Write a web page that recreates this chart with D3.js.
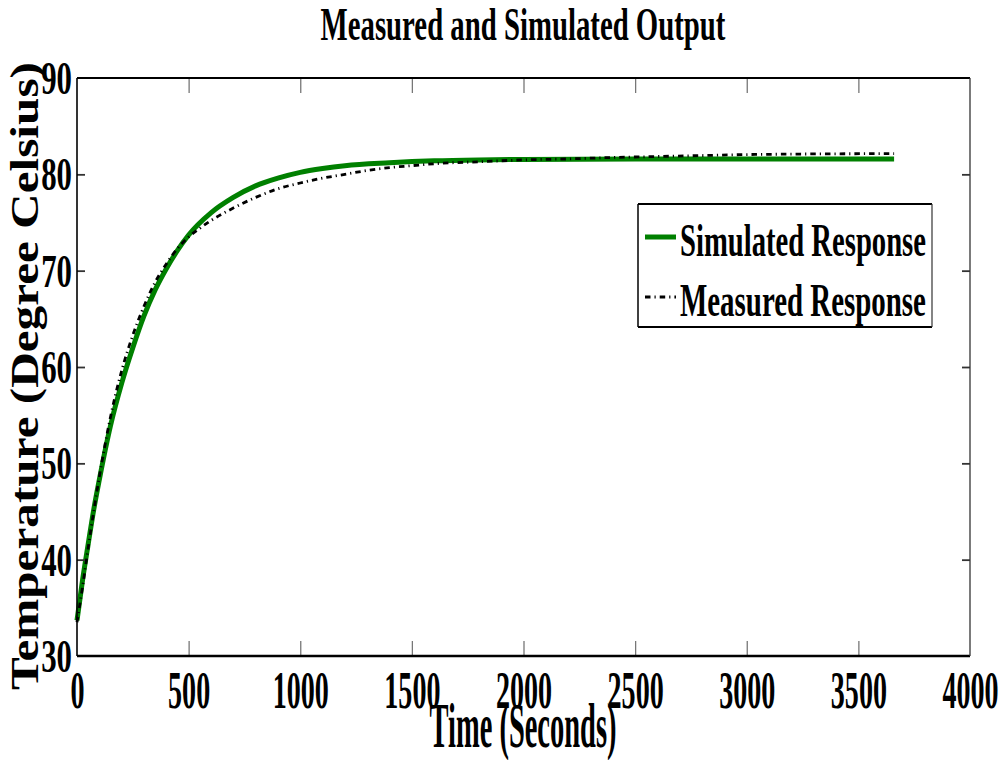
<!DOCTYPE html>
<html>
<head>
<meta charset="utf-8">
<script src="https://cdn.jsdelivr.net/npm/d3@7"></script>
<style>
  html, body { margin: 0; padding: 0; background: #fff; }
  svg { display: block; }
</style>
</head>
<body>
<svg id="chart" width="1004" height="760"></svg>
<script>
// ---- data ----
const simTime = [0, 25, 50, 75, 100, 150, 200, 250, 300, 350, 400, 450, 500, 600, 700, 800, 900, 1000, 1100, 1200, 1400, 1600, 1800, 2000, 2500, 3000, 3660];
const simTemp = [33.7, 37.9, 41.6, 45.2, 48.3, 53.9, 58.3, 62.0, 65.3, 68.0, 70.2, 72.1, 73.7, 76.0, 77.6, 78.8, 79.6, 80.2, 80.6, 80.9, 81.2, 81.4, 81.5, 81.55, 81.6, 81.6, 81.6];

const measTime = [0, 25, 50, 100, 150, 200, 250, 300, 350, 400, 450, 500, 550, 600, 700, 800, 900, 1000, 1100, 1200, 1300, 1400, 1500, 1600, 1800, 2000, 2200, 2400, 2600, 2800, 3000, 3200, 3660];
const measTemp = [33.5, 37.2, 41.2, 48.6, 54.8, 59.6, 63.3, 66.3, 68.8, 70.7, 72.3, 73.5, 74.4, 75.2, 76.5, 77.6, 78.5, 79.1, 79.6, 80.0, 80.4, 80.7, 80.9, 81.1, 81.3, 81.5, 81.6, 81.75, 81.85, 81.95, 82.05, 82.1, 82.15];

const xTicks = [0, 500, 1000, 1500, 2000, 2500, 3000, 3500, 4000];
const yTicks = [30, 40, 50, 60, 70, 80, 90];

const titleText = "Measured and Simulated Output";
const xLabelText = "Time (Seconds)";
const yLabelText = "Temperature (Degree Celsius)";
const seriesNames = ["Simulated Response", "Measured Response"];

// ---- layout ----
const FONT = "'Liberation Serif', 'Times New Roman', serif";
const plot = { left: 77, right: 970, top: 78, bottom: 656 };

const svg = d3.select("#chart");

const x = d3.scaleLinear().domain([0, 4000]).range([plot.left, plot.right]);
const y = d3.scaleLinear().domain([30, 90]).range([plot.bottom, plot.top]);

// fit text helper: compress horizontally to a target width
function fitText(parent, str, opts) {
  const t = parent.append("text")
    .attr("font-family", FONT)
    .attr("font-weight", "bold")
    .attr("font-size", opts.size)
    .attr("fill", "#000")
    .attr("text-anchor", opts.anchor || "middle")
    .text(str);
  const w = t.node().getComputedTextLength();
  const s = opts.width ? opts.width / w : (opts.scale || 1);
  t.attr("transform", `translate(${opts.x},${opts.y})${opts.rotate ? ` rotate(${opts.rotate})` : ""} scale(${s},1)`);
  return t;
}

// ---- series lines ----
const simData = simTime.map((t, i) => [t, simTemp[i]]);
const measData = measTime.map((t, i) => [t, measTemp[i]]);
const line = d3.line().x(d => x(d[0])).y(d => y(d[1])).curve(d3.curveMonotoneX);

svg.append("path").datum(simData)
  .attr("d", line).attr("fill", "none")
  .attr("stroke", "#008000").attr("stroke-width", 5).attr("stroke-linejoin", "round");

svg.append("path").datum(measData)
  .attr("d", line).attr("fill", "none")
  .attr("stroke", "#000").attr("stroke-width", 2.8)
  .attr("stroke-dasharray", "5.5,4,1.2,4");

// ---- axes ----
const gxb = svg.append("g").attr("transform", `translate(0,${plot.bottom})`)
  .call(d3.axisBottom(x).tickValues(xTicks).tickSize(-15).tickFormat(d3.format("d")));
const gxt = svg.append("g").attr("transform", `translate(0,${plot.top})`)
  .call(d3.axisTop(x).tickValues(xTicks).tickSize(-15).tickFormat(""));
const gyl = svg.append("g").attr("transform", `translate(${plot.left},0)`)
  .call(d3.axisLeft(y).tickValues(yTicks).tickSize(-8).tickFormat(d3.format("d")));
const gyr = svg.append("g").attr("transform", `translate(${plot.right},0)`)
  .call(d3.axisRight(y).tickValues(yTicks).tickSize(-8).tickFormat(""));

[gxb, gxt, gyl, gyr].forEach(g => g.select(".domain").remove());
[gxb, gxt].forEach(g => g.selectAll(".tick line").attr("stroke", "#777").attr("stroke-width", 1.3));
[gyl, gyr].forEach(g => g.selectAll(".tick line").attr("stroke", "#333").attr("stroke-width", 1.8));
// drop ticks coinciding with the frame
gxb.selectAll(".tick").filter(d => d === 0 || d === 4000).select("line").remove();
gxt.selectAll(".tick").filter(d => d === 0 || d === 4000).select("line").remove();
gyl.selectAll(".tick").filter(d => d === 30 || d === 90).select("line").remove();
gyr.selectAll(".tick").filter(d => d === 30 || d === 90).select("line").remove();

gxb.selectAll(".tick text")
  .attr("font-family", FONT).attr("font-weight", "bold").attr("font-size", 52)
  .attr("fill", "#000").attr("y", 0).attr("dy", 0).attr("text-anchor", "middle")
  .attr("transform", "translate(0,52) scale(0.54,1)");
gyl.selectAll(".tick text")
  .attr("font-family", FONT).attr("font-weight", "bold").attr("font-size", 46)
  .attr("fill", "#000").attr("x", 0).attr("dy", 0).attr("text-anchor", "end")
  .attr("transform", "translate(-5,15.5) scale(0.67,1)");

// ---- frame ----
const frame = svg.append("g");
frame.append("line").attr("x1", plot.left).attr("x2", plot.right).attr("y1", plot.top).attr("y2", plot.top)
  .attr("stroke", "#000").attr("stroke-width", 2);
frame.append("line").attr("x1", plot.left).attr("x2", plot.right).attr("y1", plot.bottom).attr("y2", plot.bottom)
  .attr("stroke", "#000").attr("stroke-width", 2.5);
frame.append("line").attr("x1", plot.left).attr("x2", plot.left).attr("y1", plot.top).attr("y2", plot.bottom)
  .attr("stroke", "#000").attr("stroke-width", 1.6);
frame.append("line").attr("x1", plot.right).attr("x2", plot.right).attr("y1", plot.top).attr("y2", plot.bottom)
  .attr("stroke", "#333").attr("stroke-width", 1.3);

// ---- titles ----
fitText(svg, titleText, { x: 523, y: 40, size: 46, width: 405 });
fitText(svg, xLabelText, { x: 523, y: 747, size: 64, width: 187 });
fitText(svg, yLabelText, { x: 38, y: 376, size: 40, width: 628, rotate: -90 });

// ---- legend ----
const leg = svg.append("g");
const lg = { x0: 638, x1: 932, y0: 204, y1: 327 };
leg.append("rect").attr("x", lg.x0).attr("y", lg.y0).attr("width", lg.x1 - lg.x0).attr("height", lg.y1 - lg.y0)
  .attr("fill", "#fff").attr("stroke", "none");
leg.append("line").attr("x1", lg.x0).attr("x2", lg.x1).attr("y1", lg.y0).attr("y2", lg.y0).attr("stroke", "#000").attr("stroke-width", 2);
leg.append("line").attr("x1", lg.x0).attr("x2", lg.x1).attr("y1", lg.y1).attr("y2", lg.y1).attr("stroke", "#000").attr("stroke-width", 2);
leg.append("line").attr("x1", lg.x0).attr("x2", lg.x0).attr("y1", lg.y0).attr("y2", lg.y1).attr("stroke", "#000").attr("stroke-width", 1.5);
leg.append("line").attr("x1", lg.x1).attr("x2", lg.x1).attr("y1", lg.y0).attr("y2", lg.y1).attr("stroke", "#333").attr("stroke-width", 1.2);

const legRows = [
  { name: seriesNames[0], y: 237, color: "#008000", width: 5, dash: null },
  { name: seriesNames[1], y: 297, color: "#000", width: 2.8, dash: "5.5,4,1.2,4" }
];
legRows.forEach(r => {
  const l = leg.append("line").attr("x1", 645).attr("x2", 676).attr("y1", r.y).attr("y2", r.y)
    .attr("stroke", r.color).attr("stroke-width", r.width);
  if (r.dash) l.attr("stroke-dasharray", r.dash);
  fitText(leg, r.name, { x: 680, y: r.y + 19, size: 46, width: 246, anchor: "start" });
});
</script>
</body>
</html>
